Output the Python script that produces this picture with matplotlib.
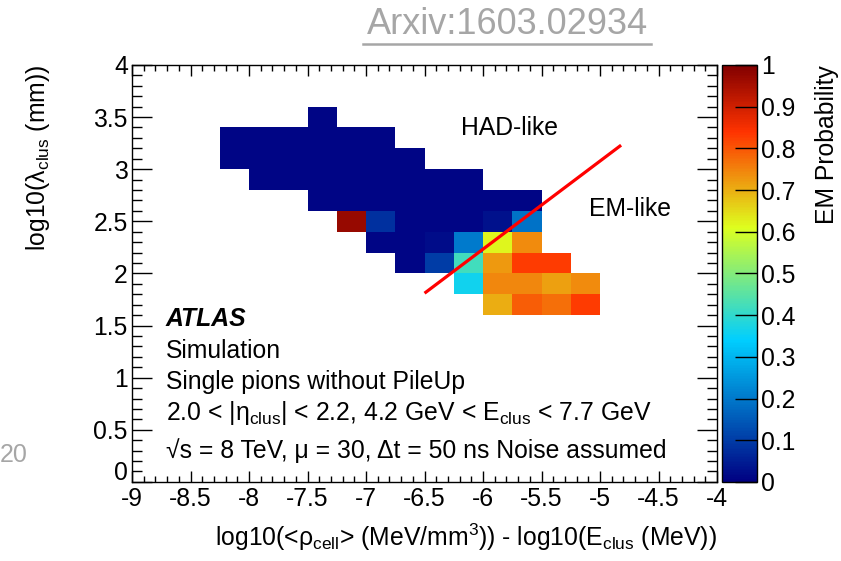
import numpy as np
import matplotlib.pyplot as plt
import matplotlib.transforms as mtransforms
from matplotlib.colors import LinearSegmentedColormap
from matplotlib.ticker import FixedLocator, MultipleLocator, FormatStrFormatter
from matplotlib.lines import Line2D

plt.rcParams['font.family'] = ['Liberation Sans', 'DejaVu Sans']
plt.rcParams['mathtext.fontset'] = 'custom'
plt.rcParams['mathtext.rm'] = 'Liberation Sans'
plt.rcParams['mathtext.it'] = 'Liberation Sans:italic'
plt.rcParams['mathtext.bf'] = 'Liberation Sans:bold'
plt.rcParams['axes.unicode_minus'] = False

# EM probability per bin: lower y edge of each row, x of first filled bin, values
y_lo = [1.6, 1.8, 2.0, 2.2, 2.4, 2.6, 2.8, 3.0, 3.2, 3.4]
x_start = [-6.0, -6.25, -6.75, -7.0, -7.25, -7.5, -8.0, -8.25, -8.25, -7.5]
em_prob = [
    [0.70, 0.79, 0.77, 0.83],
    [0.36, 0.745, 0.745, 0.715, 0.74],
    [0.01, 0.10, 0.42, 0.725, 0.83, 0.83],
    [0.01, 0.01, 0.02, 0.20, 0.62, 0.74],
    [0.97, 0.08, 0.01, 0.01, 0.01, 0.03, 0.19],
    [0.01, 0.01, 0.01, 0.01, 0.01, 0.01, 0.01, 0.01],
    [0.01, 0.01, 0.01, 0.01, 0.01, 0.01, 0.01, 0.01],
    [0.01, 0.01, 0.01, 0.01, 0.01, 0.01, 0.01],
    [0.01, 0.01, 0.01, 0.01, 0.01, 0.01],
    [0.01],
]

# separating line between HAD-like and EM-like regions
cut_x = [-6.5, -4.82]
cut_y = [1.81, 3.23]

# palette
stops = [0.00, 0.34, 0.61, 0.84, 1.00]
red = [0.00, 0.00, 0.87, 1.00, 0.51]
green = [0.00, 0.81, 1.00, 0.20, 0.00]
blue = [0.51, 1.00, 0.12, 0.00, 0.00]
cmap = LinearSegmentedColormap.from_list('em', list(zip(stops, zip(red, green, blue))))

bin_w, bin_h = 0.25, 0.2
x_edges = np.arange(-9, -4 + bin_w / 2, bin_w)
y_edges = np.arange(0, 4 + bin_h / 2, bin_h)
grid = np.full((len(y_edges) - 1, len(x_edges) - 1), np.nan)
for y0, x0, vals in zip(y_lo, x_start, em_prob):
    j = int(round(y0 / bin_h))
    i = int(round((x0 + 9) / bin_w))
    grid[j, i:i + len(vals)] = vals
grid = np.ma.masked_invalid(grid)

fs = 17.8
fig = plt.figure(figsize=(8.41, 5.61), dpi=100)
ax = fig.add_axes([0.157, 0.141, 0.6956, 0.7433])
cax = fig.add_axes([0.8585, 0.141, 0.0416, 0.7433])

mesh = ax.pcolormesh(x_edges, y_edges, grid, cmap=cmap, vmin=0, vmax=1)
ax.plot(cut_x, cut_y, color='red', lw=2.3, solid_capstyle='butt')

ax.set_xlim(-9, -4)
ax.set_ylim(0, 4)
ax.xaxis.set_major_locator(MultipleLocator(0.5))
ax.xaxis.set_minor_locator(MultipleLocator(0.1))
ax.yaxis.set_major_locator(FixedLocator(np.arange(0, 4.01, 0.5)))
ax.yaxis.set_minor_locator(MultipleLocator(0.1))
ax.xaxis.set_major_formatter(FormatStrFormatter('%g'))
ax.yaxis.set_major_formatter(FormatStrFormatter('%g'))
ax.tick_params(axis='x', which='major', direction='in', length=8, width=1,
               top=True, labelsize=fs, pad=4)
ax.tick_params(axis='x', which='minor', direction='in', length=4, width=1, top=True)
ax.tick_params(axis='y', which='major', direction='in', length=14.4, width=1,
               right=True, labelsize=fs, pad=3)
ax.tick_params(axis='y', which='minor', direction='in', length=7.2, width=1, right=True)
for s in ax.spines.values():
    s.set_linewidth(1)

# lift the "0" on the y axis clear of the "-9" below it
zero_lbl = ax.yaxis.get_major_ticks()[0].label1
zero_lbl.set_transform(zero_lbl.get_transform() +
                       mtransforms.ScaledTranslation(0, 8 / 72, fig.dpi_scale_trans))

ax.set_xlabel(r'log10(<ρ$_{\mathrm{cell}}$> (MeV/mm$^{3}$)) - log10(E$_{\mathrm{clus}}$ (MeV))',
              fontsize=fs, loc='right', labelpad=7)
ax.set_ylabel(r'log10($\mathrm{λ}_{\mathrm{clus}}$ (mm))', fontsize=fs, loc='top', labelpad=30)

ax.text(-5.77, 3.39, 'HAD-like', fontsize=fs, ha='center', va='center')
ax.text(-4.74, 2.62, 'EM-like', fontsize=fs, ha='center', va='center')

ax.text(-8.71, 1.56, 'ATLAS', fontsize=fs, fontweight='bold', fontstyle='italic', va='center')
ax.text(-8.71, 1.26, 'Simulation', fontsize=fs, va='center')
ax.text(-8.71, 0.96, 'Single pions without PileUp', fontsize=fs, va='center')
ax.text(-8.71, 0.595, r'2.0 < |η$_{\mathrm{clus}}$| < 2.2, 4.2 GeV < E$_{\mathrm{clus}}$ < 7.7 GeV',
        fontsize=fs, va='baseline')
ax.text(-8.71, 0.30, '√s = 8 TeV, μ = 30, Δt = 50 ns Noise assumed', fontsize=fs, va='center')

cb = fig.colorbar(mesh, cax=cax)
cb.set_ticks(np.arange(0, 1.01, 0.1))
cb.ax.yaxis.set_major_formatter(FormatStrFormatter('%g'))
cb.ax.tick_params(direction='in', length=16, width=1, labelsize=fs, pad=3)
cb.ax.minorticks_off()
cb.outline.set_linewidth(1)
cb.set_label('EM Probability', fontsize=fs, loc='top', labelpad=14)

# slide decorations
fig.text(507 / 841, 1 - 24 / 561, 'Arxiv:1603.02934', fontsize=26, color='#a6a6a6',
         ha='center', va='center', family=['Liberation Sans Narrow', 'Liberation Sans'])
fig.add_artist(Line2D([363 / 841, 651 / 841], [1 - 44 / 561, 1 - 44 / 561],
                      color='#a6a6a6', lw=1.8))
fig.text(0.0, 1 - 455 / 561, '20', fontsize=18, color='#a6a6a6', ha='left', va='center')

fig.savefig('out.png', dpi=100)
